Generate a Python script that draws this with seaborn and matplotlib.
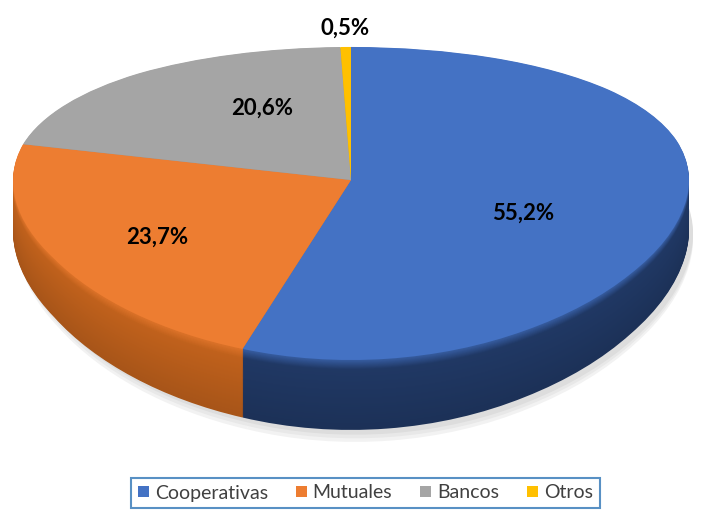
import numpy as np
import matplotlib.pyplot as plt
import seaborn as sns
from matplotlib.colors import to_rgb

# Style
sns.set_theme(style='white')
plt.rcParams['font.family'] = ['Lato', 'DejaVu Sans']

# Data
categories = ['Cooperativas', 'Mutuales', 'Bancos', 'Otros']
shares = [55.2, 23.7, 20.6, 0.5]
top_colors = ['#4472C4', '#ED7D31', '#A5A5A5', '#FFC000']
side_colors = ['#203864', '#C0611C', '#7B7B7B', '#BF9000']

W, H = 707, 525
# pie geometry in pixels: apex position, x radius, px per unit on y, tilt
cx, cy, rx, ky = 351, 180, 338, 153.0
tilt = 0.15          # perspective strength (far half drawn smaller)
D = 0.312            # wall depth in data units


def fwd(y):
    y = np.asarray(y, dtype=float)
    return y / (1 + tilt * y)


def inv(Y):
    Y = np.asarray(Y, dtype=float)
    return Y / (1 - tilt * Y)


def mix(c1, c2, t):
    a, b = np.array(to_rgb(c1)), np.array(to_rgb(c2))
    return tuple(a * (1 - t) + b * t)


fig = plt.figure(figsize=(W / 100, H / 100), dpi=100)
ax = fig.add_axes([0, 0, 1, 1])

wp = dict(linewidth=0, antialiased=True)

# soft shadow under the disc
for off, col in [(0.05, '#F2F2F2'), (0.035, '#E8E8E8'), (0.02, '#DDDDDD')]:
    ax.pie(shares, colors=[col] * len(shares), startangle=90, counterclock=False,
           center=(0.012, -D - off), radius=1.0, wedgeprops=wp)

# side wall, stacked from the bottom up
n_layers = 70
for i in range(n_layers, 0, -1):
    f = i / n_layers
    cols = []
    for tc, sc in zip(top_colors, side_colors):
        rim = mix(tc, sc, 0.35)
        if f < 0.15:
            cols.append(mix(rim, sc, f / 0.15))
        else:
            cols.append(mix(sc, '#000000', 0.15 * (f - 0.15)))
    ax.pie(shares, colors=cols, startangle=90, counterclock=False,
           center=(0, -D * f), radius=1.0, wedgeprops=wp)

# top face
wedges, _ = ax.pie(shares, colors=top_colors, startangle=90, counterclock=False,
                   center=(0, 0), radius=1.0, wedgeprops=wp)

ax.set_aspect('auto')
ax.set_yscale('function', functions=(fwd, inv))
ax.set_xlim(-cx / rx, (W - cx) / rx)
ax.set_ylim(float(inv(-(H - cy) / ky)), float(inv(cy / ky)))
ax.axis('off')

# percentage labels
label_px = [(523, 213), (157, 237), (262, 108), (345, 28)]
for v, (px, py) in zip(shares, label_px):
    fig.text(px / W, 1 - py / H, f'{v:.1f}%'.replace('.', ','),
             ha='center', va='center', fontsize=16, fontweight='bold',
             color='black')

leg = ax.legend(wedges, categories, ncol=4, loc='center',
                bbox_to_anchor=(365.5 / W, 1 - 493 / H),
                bbox_transform=fig.transFigure, frameon=True, fancybox=False,
                edgecolor='#2E75B6', handlelength=0.55, handleheight=0.55,
                handletextpad=0.3, columnspacing=1.45, fontsize=14,
                labelcolor='#404040', borderpad=0.35)
leg.get_frame().set_linewidth(1.5)

fig.savefig('out.png', dpi=100, facecolor='white')
